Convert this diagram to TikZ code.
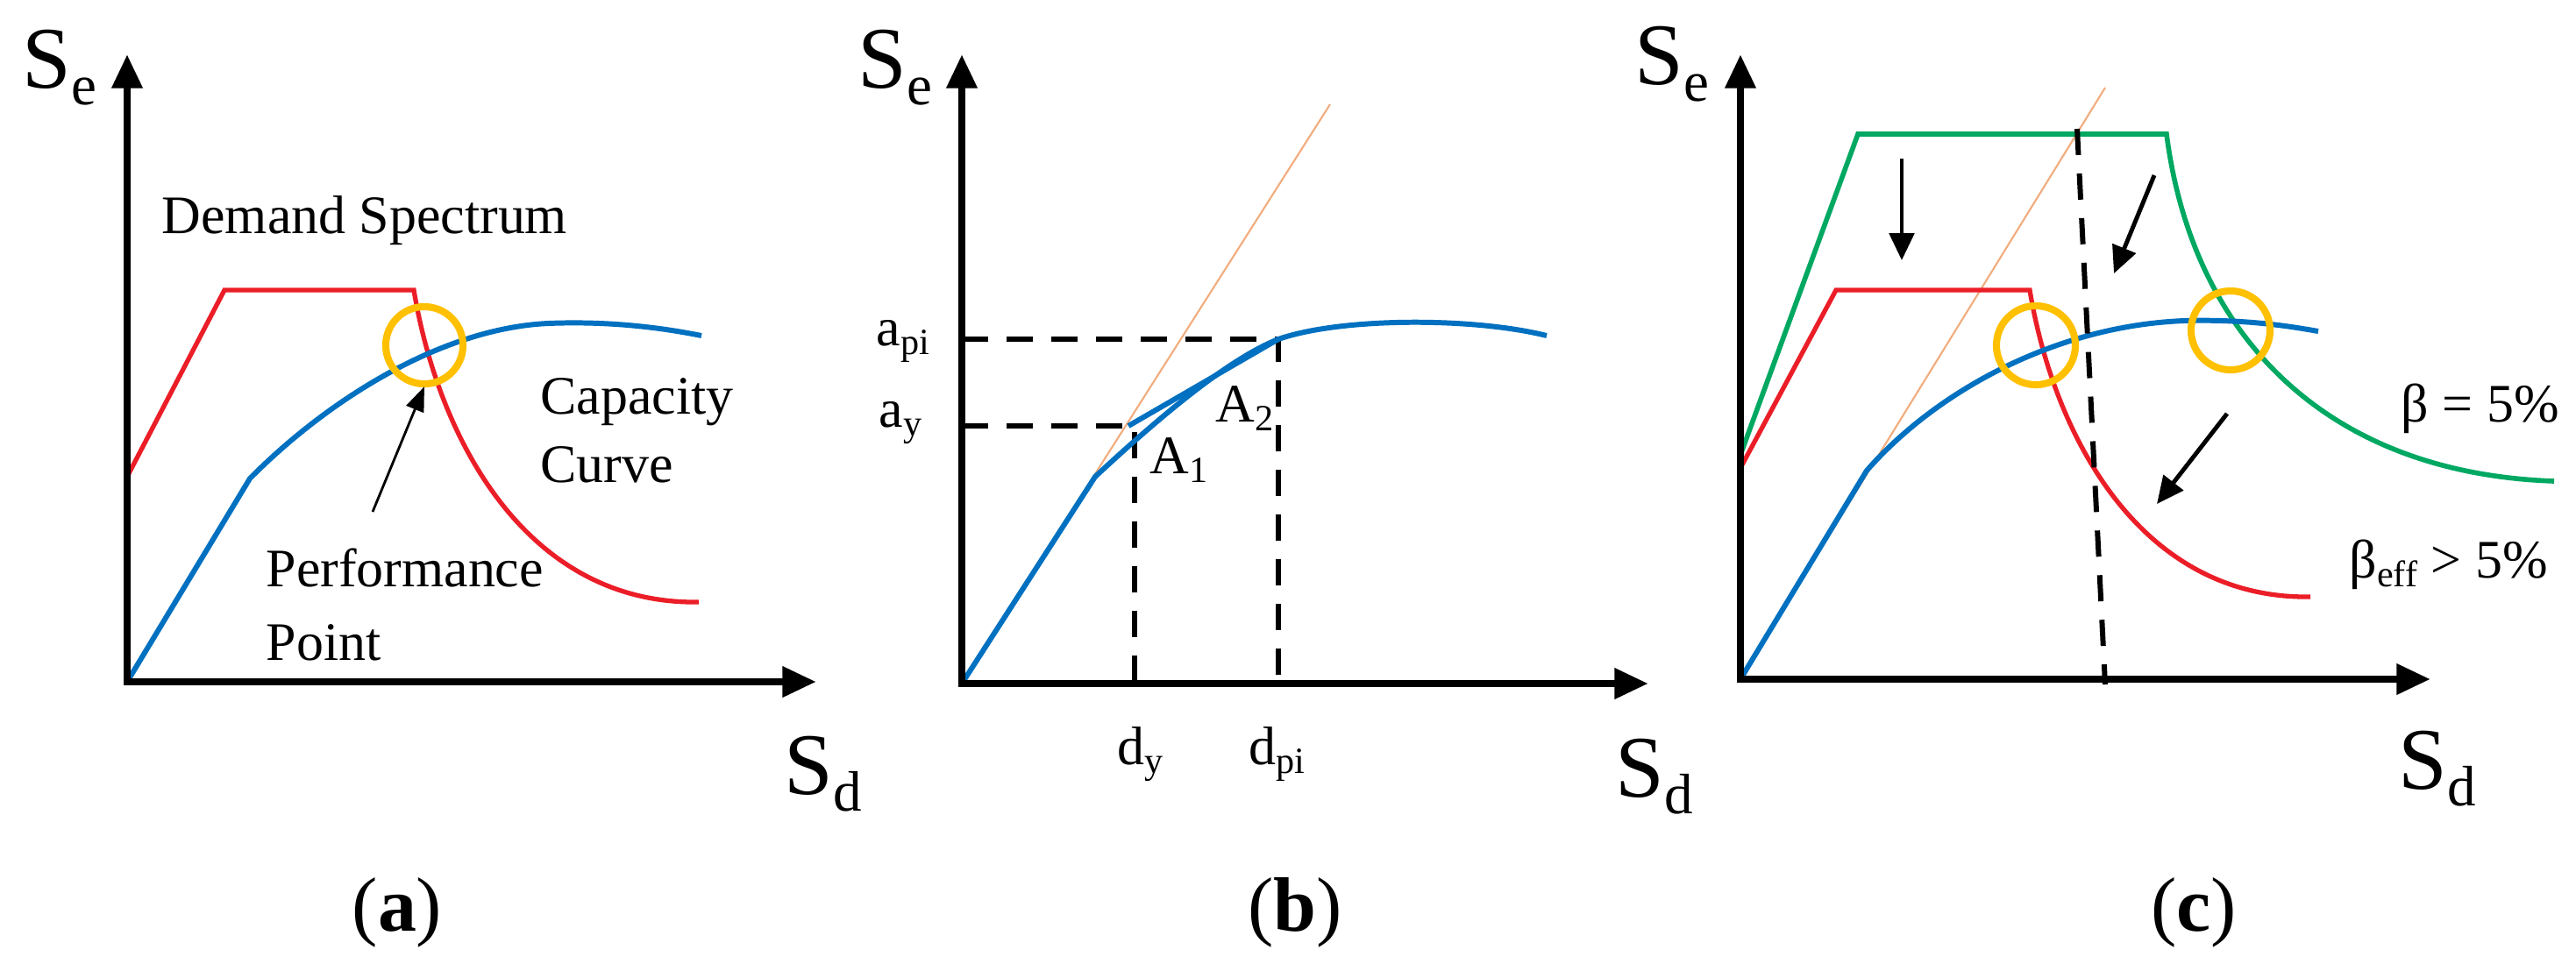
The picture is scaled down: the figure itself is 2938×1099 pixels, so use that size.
\documentclass[tikz,border=0pt]{standalone}
\usepackage{fontspec}
\setmainfont{Liberation Serif}
\usetikzlibrary{arrows.meta}
\definecolor{cred}{RGB}{235,30,40}
\definecolor{cblue}{RGB}{0,112,192}
\definecolor{cgreen}{RGB}{0,168,98}
\definecolor{cgold}{RGB}{255,192,0}
\definecolor{corange}{RGB}{242,172,125}
\newcommand{\bigsub}[1]{\raisebox{-5.4pt}{\fontsize{18.5pt}{20pt}\selectfont #1}}
\newcommand{\smsub}[1]{\raisebox{-3pt}{\fontsize{12pt}{13pt}\selectfont #1}}
\begin{document}
\begin{tikzpicture}[x=0.01cm,y=-0.01cm,
  axis/.style={line width=2.5pt, line join=miter, {Triangle[width=9.5pt,length=11pt]}-{Triangle[width=9.5pt,length=11pt]}},
  redc/.style={cred, line width=1.5pt},
  bluec/.style={cblue, line width=1.7pt},
  greenc/.style={cgreen, line width=1.6pt},
  goldc/.style={cgold, line width=2.3pt},
  orangeline/.style={corange, line width=0.6pt},
  dsh/.style={black, line width=1.7pt, dash pattern=on 8.5pt off 6pt},
  thinarrow/.style={black, line width=0.8pt, -{Triangle[width=6pt,length=8pt]}},
  bigarrow/.style={black, line width=1.4pt, -{Triangle[width=8pt,length=8.8pt]}},
  lbl/.style={inner sep=0pt, anchor=base west, font=\fontsize{17.6pt}{20pt}\selectfont},
  big/.style={inner sep=0pt, anchor=base west, font=\fontsize{28.5pt}{30pt}\selectfont},
  captxt/.style={inner sep=0pt, anchor=base, font=\fontsize{25pt}{27pt}\selectfont}]
\useasboundingbox (0,0) rectangle (2938,1099);

% ---------------- panel (a)
\coordinate (aY) at (145,62);
\coordinate (aO) at (145,778);
\coordinate (aX) at (931,778);
\draw[redc] (145,544) -- (256,331) -- (472,331) .. controls (500,500) and (600,690) .. (797,687);
\draw[bluec] (aO) -- (285,546) .. controls (370,460) and (500,375) .. (625,369) .. controls (700,366) and (760,375) .. (800,383);
\draw[axis] (aY) -- (aO) -- (aX);
\draw[goldc] (484,394) circle[radius=0.44cm];
\coordinate (ap1) at (425,584);
\coordinate (ap2) at (484,441);
\draw[thinarrow] (ap1) -- (ap2);
\node[big] (sea) at (25,100) {S\bigsub{e}};
\node[big] (sda) at (894,906) {S\bigsub{d}};
\node[lbl] (dem) at (184,266) {Demand Spectrum};
\node[lbl] (cap1) at (616,472) {Capacity};
\node[lbl] (cap2) at (616,550) {Curve};
\node[lbl] (perf1) at (303,669) {Performance};
\node[lbl] (perf2) at (303,753) {Point};

% ---------------- panel (b)
\coordinate (bY) at (1097,62);
\coordinate (bO) at (1097,780);
\coordinate (bX) at (1880,780);
\draw[orangeline] (bO) -- (1517,119);
\draw[dsh] (1097,387) -- (1458,387) -- (1458,780);
\draw[dsh] (1097,486) -- (1294,486) -- (1294,780);
\draw[bluec] (bO) -- (1249,544) .. controls (1320,478) and (1400,410) .. (1458,387) .. controls (1530,362) and (1680,362) .. (1764,383);
\draw[bluec] (1287,486) -- (1458,387);
\draw[axis] (bY) -- (bO) -- (bX);
\node[big] (seb) at (978,100) {S\bigsub{e}};
\node[big] (sdb) at (1842,909) {S\bigsub{d}};
\node[lbl] (api) at (999,394) {a\smsub{pi}};
\node[lbl] (ay) at (1002,487) {a\smsub{y}};
\node[lbl] (A1) at (1311,540) {A\smsub{1}};
\node[lbl] (A2) at (1386,481) {A\smsub{2}};
\node[lbl] (dy) at (1274,872) {d\smsub{y}};
\node[lbl] (dpi) at (1424,872) {d\smsub{pi}};

% ---------------- panel (c)
\coordinate (cY) at (1985,62);
\coordinate (cO) at (1985,775);
\coordinate (cX) at (2772,775);
\draw[orangeline] (cO) -- (2401,100);
\draw[greenc] (1985,519) -- (2119,153) -- (2471,153) .. controls (2500,380) and (2650,540) .. (2913,549);
\draw[redc] (1985,534) -- (2094,331) -- (2315,331) .. controls (2343,500) and (2443,684) .. (2635,681);
\draw[bluec] (cO) -- (2129,537) .. controls (2205,450) and (2340,372) .. (2491,366) .. controls (2560,364) and (2610,372) .. (2644,378);
\draw[dsh] (2369,147) -- (2401,781);
\draw[axis] (cY) -- (cO) -- (cX);
\draw[goldc] (2322,394) circle[radius=0.45cm];
\draw[goldc] (2544,377) circle[radius=0.45cm];
\coordinate (c1a) at (2169,181); \coordinate (c1b) at (2169,297);
\coordinate (c2a) at (2457,200); \coordinate (c2b) at (2411,312);
\coordinate (c3a) at (2540,472); \coordinate (c3b) at (2460,575);
\draw[bigarrow] (c1a) -- (c1b);
\draw[bigarrow] (c2a) -- (c2b);
\draw[bigarrow] (c3a) -- (c3b);
\node[big] (sec) at (1864,96) {S\bigsub{e}};
\node[big] (sdc) at (2735,900) {S\bigsub{d}};
\node[lbl] (b5) at (2738,481) {β = 5\%};
\node[lbl] (beff) at (2679,659) {β\smsub{eff} > 5\%};

% ---------------- captions
\node[captxt] (la) at (453,1062) {(\textbf{a})};
\node[captxt] (lb) at (1477,1062) {(\textbf{b})};
\node[captxt] (lc) at (2502,1062) {(\textbf{c})};
\end{tikzpicture}
\end{document}
